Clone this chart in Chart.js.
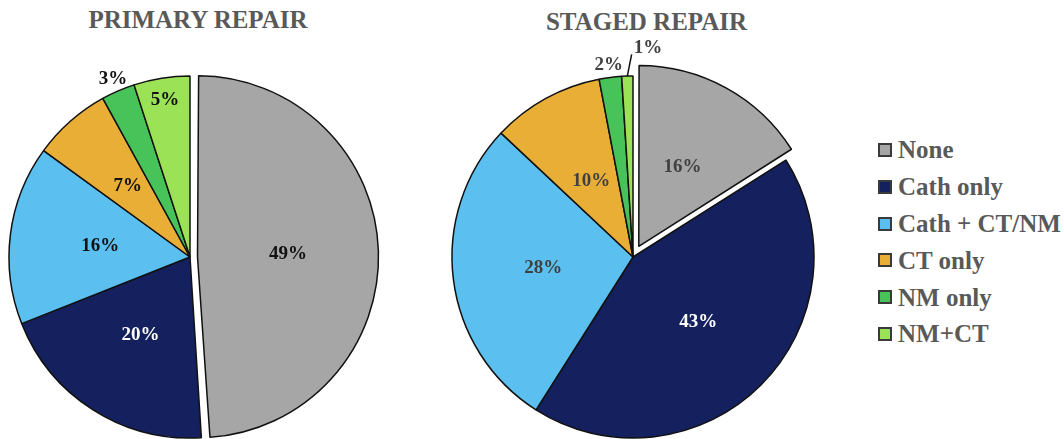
<!DOCTYPE html>
<html>
<head>
<meta charset="utf-8">
<script src="https://cdn.jsdelivr.net/npm/chart.js@4.4.1/dist/chart.umd.min.js"></script>
<style>
  html, body { margin: 0; padding: 0; background: #fff; width: 1064px; height: 439px; overflow: hidden; }
  #wrap { position: relative; width: 1064px; height: 439px; }
  canvas { position: absolute; top: 0; }
  .title {
    position: absolute; white-space: nowrap; transform: translateX(-50%);
    font: bold 25px "Liberation Serif", "Times New Roman", serif; line-height: 25px; color: #595959;
  }
  #legend { position: absolute; left: 878px; top: 131.6px; }
  .row { height: 36.8px; display: flex; align-items: center; }
  .box { width: 14px; height: 14px; box-sizing: border-box; border: 2px solid #3a3a3a; margin-right: 6px; }
  .txt { font: bold 25px "Liberation Serif", "Times New Roman", serif; line-height: 25px; color: #595959; white-space: nowrap; }
</style>
</head>
<body>
<div id="wrap">
  <div class="title" id="t1" style="left:198px; top:7px;"></div>
  <div class="title" id="t2" style="left:646.5px; top:9px;"></div>
  <canvas id="primary" width="420" height="439" style="left:0px;"></canvas>
  <canvas id="staged" width="440" height="439" style="left:420px;"></canvas>
  <div id="legend"></div>
</div>
<script>
// ---- data ----
const categories = ['None', 'Cath only', 'Cath + CT/NM', 'CT only', 'NM only', 'NM+CT'];
const primaryValues = [49, 20, 16, 7, 3, 5];
const stagedValues = [16, 43, 28, 10, 2, 1];
const primaryTitle = 'PRIMARY REPAIR';
const stagedTitle = 'STAGED REPAIR';

// ---- styling ----
const sliceColors = ['#a6a6a6', '#14215e', '#5bc0f0', '#e8ae35', '#48c35a', '#9be256'];
// arc offset option (Chart.js shifts an arc by offset / 4 px)
const primaryExplode = [30, 0, 0, 0, 0, 0];
const stagedExplode = [48, 0, 0, 0, 0, 0];
// label distance from the centre as a fraction of the radius
const primaryLabelStyles = [
  { r: 0.50, color: '#111' },
  { r: 0.51, color: '#fff' },
  { r: 0.50, color: '#111' },
  { r: 0.52, color: '#111' },
  { r: 1.07, color: '#111' },
  { r: 0.88, color: '#111' }
];
const stagedLabelStyles = [
  { r: 0.50, color: '#404040' },
  { r: 0.51, color: '#fff' },
  { r: 0.50, color: '#404040' },
  { r: 0.48, color: '#404040' },
  { r: 1.07, color: '#404040' },
  { r: 1.12, color: '#404040', leader: { dx: 5, textDx: 2, textDy: -6 } }
];
const PIE_RADIUS = 181;
const LABEL_FONT = 'bold 19px "Liberation Serif", "Times New Roman", serif';

document.getElementById('t1').textContent = primaryTitle;
document.getElementById('t2').textContent = stagedTitle;

function makeLabelPlugin(styles) {
  return {
    id: 'sliceLabels',
    beforeDatasetDraw(chart, args) {
      // keep exploded slices on the same radius as the others
      const meta = args.meta;
      const R = meta.controller.outerRadius;
      meta.data.forEach(arc => {
        const off = (arc.options.offset || 0) / 4;
        if (!off) return;
        const fix = 1 - Math.sin(Math.min(Math.PI, arc.circumference));
        arc.outerRadius = R - off * fix;
      });
    },
    afterDatasetsDraw(chart) {
      const ctx = chart.ctx;
      const meta = chart.getDatasetMeta(0);
      const values = chart.data.datasets[0].data;
      const R = meta.controller.outerRadius;
      ctx.save();
      ctx.font = LABEL_FONT;
      ctx.textBaseline = 'middle';
      meta.data.forEach((arc, i) => {
        const st = styles[i];
        const mid = (arc.startAngle + arc.endAngle) / 2;
        const off = (arc.options.offset || 0) / 4;
        const c = Math.cos(mid), s = Math.sin(mid);
        const text = values[i] + '%';
        ctx.fillStyle = st.color;
        if (st.leader) {
          const x0 = arc.x + c * (off + R), y0 = arc.y + s * (off + R);
          const x1 = arc.x + c * (off + st.r * R) + st.leader.dx;
          const y1 = arc.y + s * (off + st.r * R);
          ctx.strokeStyle = '#111';
          ctx.lineWidth = 1.5;
          ctx.beginPath();
          ctx.moveTo(x0, y0);
          ctx.lineTo(x1, y1);
          ctx.stroke();
          ctx.textAlign = 'left';
          ctx.fillText(text, x1 + st.leader.textDx, y1 + st.leader.textDy);
        } else {
          ctx.textAlign = 'center';
          ctx.fillText(text, arc.x + c * (off + st.r * R), arc.y + s * (off + st.r * R));
        }
      });
      ctx.restore();
    }
  };
}

function makePie(id, values, explode, labelStyles, padding) {
  return new Chart(document.getElementById(id), {
    type: 'pie',
    data: {
      labels: categories,
      datasets: [{
        data: values,
        backgroundColor: sliceColors,
        borderColor: '#111',
        borderWidth: 1.5,
        offset: explode,
        hoverOffset: 0,
        radius: PIE_RADIUS,
        clip: false
      }]
    },
    options: {
      responsive: false,
      animation: false,
      events: [],
      layout: { padding },
      plugins: {
        legend: { display: false },
        tooltip: { enabled: false },
        title: { display: false }
      }
    },
    plugins: [makeLabelPlugin(labelStyles)]
  });
}

const primaryChart = makePie('primary', primaryValues, primaryExplode, primaryLabelStyles,
  { left: 0, right: 40, top: 75, bottom: 0 });
const stagedChart = makePie('staged', stagedValues, stagedExplode, stagedLabelStyles,
  { left: 0, right: 14, top: 75, bottom: 0 });

// shared legend from the chart's own legend items
const legendEl = document.getElementById('legend');
const items = Chart.overrides.pie.plugins.legend.labels.generateLabels(stagedChart);
items.forEach(item => {
  const row = document.createElement('div');
  row.className = 'row';
  const box = document.createElement('div');
  box.className = 'box';
  box.style.background = item.fillStyle;
  const txt = document.createElement('div');
  txt.className = 'txt';
  txt.textContent = item.text;
  row.appendChild(box);
  row.appendChild(txt);
  legendEl.appendChild(row);
});
</script>
</body>
</html>
